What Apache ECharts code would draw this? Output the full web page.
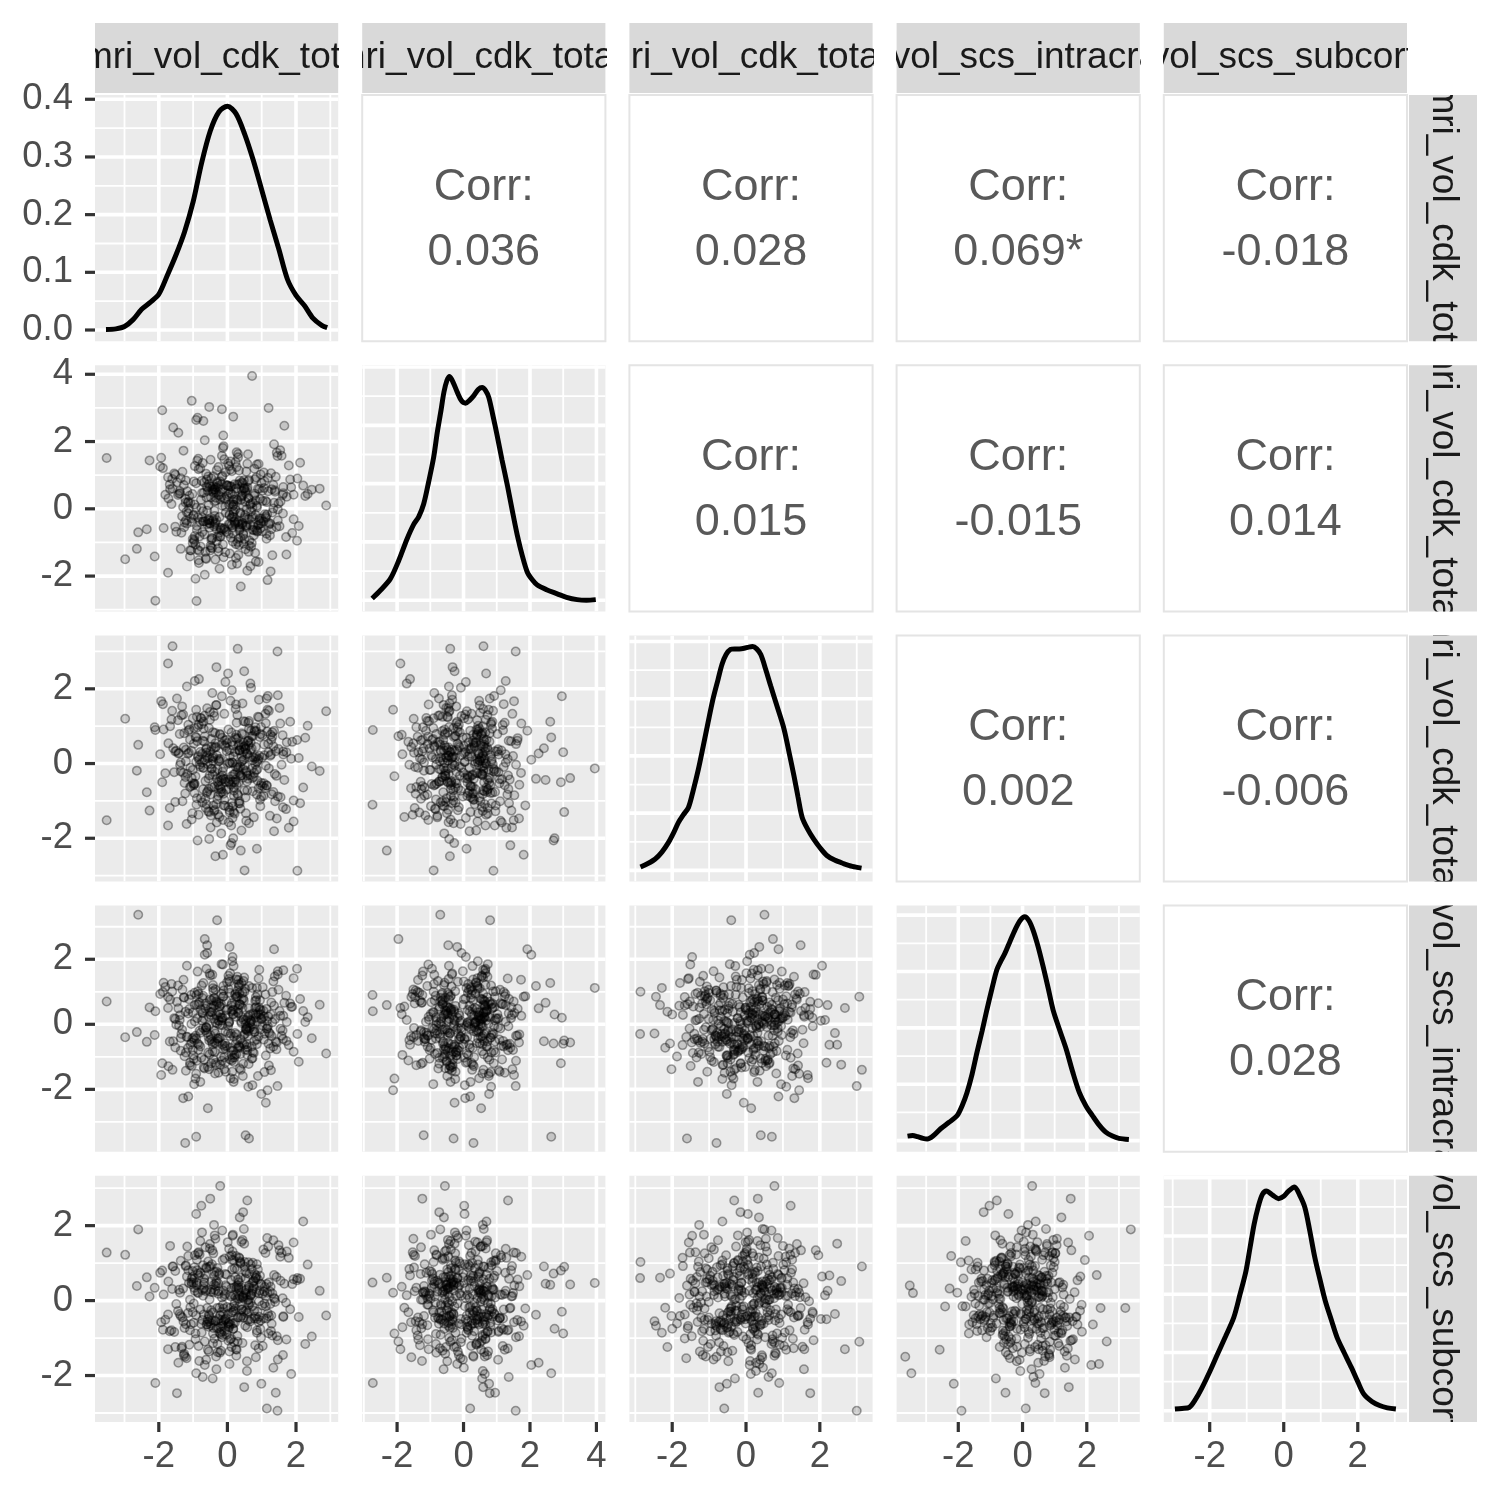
<!DOCTYPE html>
<html><head><meta charset="utf-8">
<script src="https://cdn.jsdelivr.net/npm/echarts@6/dist/echarts.min.js"></script>
<style>html,body{margin:0;padding:0;background:#fff}#c{width:1500px;height:1500px}</style>
</head><body><div id="c"></div>
<script>
// ---------- DATA ----------
const varNames = ['smri_vol_cdk_total','smri_vol_cdk_totallh','smri_vol_cdk_totalrh','smri_vol_scs_intracranialv','smri_vol_scs_subcorticalgv'];
const corrRow1 = ['0.036','0.028','0.069*','-0.018'];
const corrRow2 = ['0.015','-0.015','0.014'];
const corrRow3 = ['0.002','-0.006'];
const corrRow4 = ['0.028'];
const axisMin = [-3.86,-3.05,-3.16,-3.92,-3.24];
const axisMax = [3.23,4.27,3.43,3.65,3.33];
const tickVals1 = [-2,0,2];
const tickVals2 = [-2,0,2,4];
const tickVals3 = [-2,0,2];
const tickVals4 = [-2,0,2];
const tickVals5 = [-2,0,2];
const densTicks = [0,0.1,0.2,0.3,0.4];

const var1 = [0.72,-3.52,2.88,0.30,2.04,-2.60,-1.23,0.53,-2.10,-1.90,-0.21,1.15,-0.90,-2.98,2.69,-0.50,0.58,-0.16,-0.53,0.50,-1.60,-0.91,0.63,1.20,-1.73,1.46,0.17,-0.30,
-0.45,0.12,1.03,-0.78,0.36,-1.21,0.05,0.88,-0.33,1.47,-0.62,0.21,
0.94,-1.55,-0.08,0.41,-0.97,1.86,0.27,-0.51,0.66,-1.09,0.03,-0.24,
1.18,-0.71,0.58,-1.38,0.15,0.79,-0.19,-1.72,0.47,1.29,-0.86,0.09,
-0.39,0.99,-1.14,0.32,1.61,-0.56,-0.02,0.74,-1.93,0.44,-0.29,1.07,
0.18,-0.83,2.21,-0.41,0.55,-1.26,0.86,-0.12,-0.67,1.39,0.06,-1.01,
0.63,-0.35,1.73,-0.93,0.24,-2.35,0.91,-0.15,0.38,-0.74,1.12,-1.47,
-0.06,0.52,-0.89,1.54,0.11,-0.43,2.03,-1.17,0.69,-0.26,0.83,-0.61,
1.25,-0.03,-1.63,0.46,0.97,-0.48,0.14,-1.32,1.66,-0.18,0.59,-0.79,
0.29,-2.12,0.81,-0.37,1.34,-0.09,-0.95,0.42,1.93,-0.66,0.02,-1.22,
0.73,-0.31,1.16,-1.81,0.34,-0.54,0.89,-0.11,-1.05,2.46,-0.44,0.19,
-0.72,1.43,0.07,-1.41,0.61,-0.23,1.01,-0.87,0.26,-2.64,0.48,1.21,
-0.16,-0.59,0.77,-1.11,1.58,0.13,-0.38,0.92,-1.68,0.36,-0.05,1.31,
-0.82,0.53,-1.29,0.22,1.79,-0.47,0.08,-0.99,0.67,-0.21,1.49,-1.52,
0.31,-0.69,2.34,-0.13,0.57,-1.04,0.84,-0.34,0.16,-1.88,1.09,-0.57,
0.39,-0.01,-1.36,0.98,-0.27,1.63,-0.76,0.04,-2.27,0.71,-0.42,1.14,
-0.91,0.25,0.62,-1.19,1.36,-0.52,0.17,-0.64,1.83,-0.32,0.49,-1.58,
0.87,-0.07,-0.84,1.27,0.33,-1.44,0.56,-0.22,2.12,-0.98,0.01,-0.49,
0.22,-0.58,1.12,-0.14,0.47,-1.02,0.81,-0.36,0.05,1.52,-0.79,0.33,
-1.27,0.64,-0.21,0.92,-0.49,0.17,1.38,-0.93,0.41,-0.07,-1.61,0.73,
0.28,-0.42,0.99,-1.15,0.13,0.57,-0.68,1.71,-0.25,0.38,-0.87,0.02,
1.19,-0.53,0.46,-1.34,0.84,-0.11,0.26,-0.74,1.44,-1.86,0.61,-0.31,
0.09,0.97,-0.62,0.35,-1.08,1.26,-0.17,0.52,-0.39,2.08,-0.95,0.19,
-0.46,0.78,-1.21,0.04,0.69,-0.28,1.11,-0.57,0.31,-1.49,0.86,-0.02,
0.55,-0.84,0.14,1.63,-0.35,-0.98,0.44,0.11,-0.66,1.24,-1.39,0.37,
-0.18,0.71,-0.51,0.96,-1.12,0.24,1.47,-0.29,0.62,-0.77,0.07,-1.73,
0.82,-0.43,0.32,1.06,-0.89,0.18,-0.24,1.31,-0.60,0.49,-1.28,0.67,
-0.09,1.89,-0.71,0.27,-0.45,0.93,-1.04,0.42,0.15,-0.55,1.17,-0.33,
-1.52,0.58,0.03,-0.81,1.36,-0.16,0.75,-0.97,0.29,-0.37,2.27,-0.63,
0.48,-1.18,0.86,-0.05,0.39,-0.73,1.02,-1.43,0.21,0.63,-0.27,-0.91,
1.28,-0.47,0.12,0.80,-1.06,0.34,-0.59,1.55,-0.20,0.45,-1.67,0.91,
-0.34,0.06,-0.85,1.14,0.51,-1.25,0.23,-0.41,1.72,-0.69,0.36,-0.13,
0.68,-1.01,1.34,-0.52,0.08,-0.32,0.95,-1.36,0.53,0.19,-0.75,1.21,
-0.23,0.44,-1.96,0.77,-0.06,1.05,-0.61,0.30,-0.88,1.62,-0.40,0.16,
0.89,-0.26,-1.14,0.54,1.41,-0.70,0.10,-0.48,0.74,-1.31,0.40,-0.15,
-0.64,1.08,0.25,-0.96,0.60,-0.12,1.93,-0.54,0.35,-1.09,0.83,-0.38];

const var2 = [3.95,1.51,0.10,-0.40,0.90,-0.70,0.30,-1.20,-2.73,2.93,-0.56,0.20,-2.74,-1.50,0.60,-1.24,1.34,2.96,3.03,-0.90,0.60,2.64,-0.30,3.00,-1.90,1.57,2.74,0.80,
0.61,-0.48,0.23,-1.12,0.84,-0.35,1.27,-0.66,0.49,-0.02,-1.49,0.73,
-0.29,1.05,-0.57,0.38,-0.91,0.64,1.68,-0.44,0.12,-1.23,0.55,-0.71,
0.92,-0.38,-1.84,0.46,0.07,1.19,-0.63,0.31,-1.04,0.58,-0.25,1.41,
-0.52,0.77,-0.14,-1.37,0.41,0.96,-0.69,0.18,1.52,-0.47,-0.83,0.62,
0.27,-1.61,0.69,-0.32,1.11,-0.55,0.04,2.18,-0.76,0.51,-0.19,-1.02,
0.86,-0.41,0.36,-2.08,0.59,-0.61,1.33,0.09,-0.86,0.47,-0.27,0.79,
-1.29,0.21,-0.51,1.74,0.66,-0.36,-0.95,0.52,-0.08,1.24,-1.57,0.34,
-0.44,0.71,0.14,-0.73,1.02,-1.15,0.43,-0.22,2.47,-0.58,0.63,-0.39,
0.26,-1.42,0.88,-0.46,0.01,1.47,-0.81,0.54,-0.31,-1.96,0.68,0.19,
-0.62,1.15,-0.17,0.42,-1.08,0.74,-0.49,1.86,-0.28,0.57,-0.88,0.11,
1.36,-0.54,-1.33,0.45,0.83,-0.24,-0.67,2.71,0.29,-1.19,0.61,-0.42,
0.95,-0.06,-0.79,0.39,1.58,-1.66,0.22,-0.34,0.72,-0.59,1.09,-0.11,
-1.25,0.48,0.05,-0.45,1.29,-0.92,0.66,-0.21,-1.71,0.81,0.16,-0.53,
1.63,-0.37,0.44,-1.06,0.58,3.21,-0.64,0.24,-0.98,1.21,-0.16,0.53,
-2.31,0.37,0.91,-0.43,-1.17,0.65,0.02,-0.74,1.44,-0.26,0.49,-0.89,
0.76,-1.46,0.32,-0.09,1.92,-0.56,0.13,-1.28,0.87,-0.33,0.59,2.42,
-0.68,0.28,-1.53,1.06,-0.47,0.41,-0.01,-0.82,1.37,-0.18,0.69,-1.09,
-0.41,0.63,-0.22,0.98,-0.77,0.44,-1.31,0.57,0.12,-0.52,1.21,-0.36,
0.71,-0.94,0.28,-0.47,1.46,-0.15,0.55,-1.07,0.35,-0.62,0.89,0.04,
-1.63,0.66,-0.29,0.19,1.12,-0.49,0.78,-0.84,0.41,-0.11,-1.22,1.35,
0.52,-0.43,0.06,-0.71,0.93,-1.44,0.61,-0.26,1.67,-0.57,0.31,-0.97,
0.47,-0.38,1.04,-0.64,0.17,-1.86,0.73,-0.19,0.58,-0.51,1.27,-0.08,
-0.87,0.39,0.84,-0.45,-1.13,0.62,0.24,-0.33,1.53,-0.68,0.09,0.69,
-0.54,1.18,-0.24,0.46,-1.51,0.81,-0.42,0.14,2.04,-0.79,0.53,-0.13,
0.36,-1.02,0.67,-0.58,0.01,1.39,-0.35,0.75,-1.28,0.27,-0.46,0.94,
-0.18,0.56,-0.89,1.08,-0.63,0.21,0.49,-1.38,0.87,-0.27,1.73,-0.48,
0.32,-0.72,-0.07,1.24,-1.17,0.59,-0.39,0.79,-0.56,0.11,-2.12,0.64,
1.01,-0.31,0.43,-0.82,0.18,1.58,-0.53,-0.96,0.72,-0.21,0.38,-1.47,
0.85,-0.44,1.32,-0.12,0.26,-0.69,0.54,2.26,-0.37,-1.09,0.68,0.03,
-0.61,0.91,-0.28,0.45,-1.24,1.14,-0.46,0.22,-0.83,0.76,0.58,-1.58,
0.33,-0.17,1.49,-0.74,0.62,-0.41,-0.02,0.97,-1.36,0.48,-0.55,1.81,
0.15,-0.90,0.71,-0.34,1.16,-0.60,0.29,-1.19,0.52,-0.25,0.83,-0.47,
-1.78,0.40,1.26,-0.64,0.07,-0.38,0.66,-0.99,1.43,-0.14,0.50,-0.73,
0.60,-1.27,0.20,-0.50,0.95,2.61,-0.86,0.34,-0.23,1.10,-0.45,0.57,
-0.37,0.82,-1.05,0.13,1.62,-0.59,0.42,-0.30,0.74,-1.42,0.25,-0.06];

const var3 = [-0.13,-1.52,1.40,3.07,-2.87,0.50,-0.80,0.40,0.90,-0.50,0.77,-0.59,-1.10,1.20,-0.20,0.32,-0.32,1.80,-1.30,-2.86,3.14,0.70,-1.60,0.30,2.68,3.00,-2.00,-0.40,
-0.14,0.83,-0.61,1.22,-1.07,0.37,0.02,-0.46,1.56,-0.88,0.29,-1.34,
0.71,-0.23,0.48,-1.79,0.95,0.13,-0.57,1.38,-0.31,0.64,-1.16,0.06,
1.81,-0.69,0.25,-0.04,-1.46,0.89,-0.37,0.54,1.13,-0.82,0.17,-2.19,
0.42,-0.52,1.04,-0.11,0.76,-1.28,0.33,-0.74,1.67,0.08,-0.96,0.51,
-0.29,2.26,-0.64,0.19,-1.53,0.81,0.04,-0.41,1.28,-1.01,0.36,-0.17,
0.93,-2.48,0.57,-0.34,1.46,-0.77,0.12,0.69,-1.21,0.26,-0.06,1.74,
-0.49,0.38,-0.93,1.07,-1.66,0.15,0.63,-0.27,2.03,-0.58,0.44,-1.09,
0.21,-0.71,1.18,-0.15,0.79,-1.39,0.03,1.53,-0.44,-1.87,0.59,0.31,
-0.81,0.97,-0.02,-1.24,0.46,1.33,-0.54,0.18,-0.99,0.73,2.41,-0.36,
0.09,-1.58,0.86,-0.26,0.52,-0.68,1.25,-1.12,0.34,-0.08,1.89,-0.87,
0.61,-0.33,-1.31,0.28,1.09,-0.47,0.16,-2.06,0.77,-0.19,0.45,1.41,
-0.76,0.22,-1.44,0.91,-0.03,0.58,-0.62,1.71,-1.19,0.35,-0.42,0.84,
0.11,-0.91,1.31,-0.28,-1.72,0.66,0.01,-0.53,2.14,-0.79,0.39,-1.03,
0.68,-0.12,1.01,-1.51,0.27,-0.39,0.87,0.43,-1.14,1.59,-0.66,0.14,
-2.33,0.55,-0.21,0.98,-0.86,0.32,1.21,-0.48,-1.26,0.74,0.07,-0.59,
1.44,-0.09,0.49,-1.62,0.88,-0.32,0.19,-0.94,1.12,2.58,-0.72,0.41,
-0.16,0.62,-1.37,0.24,-0.51,1.16,-0.24,0.79,-1.06,0.53,-0.01,-0.83,
0.31,-0.74,1.08,-0.22,0.56,-1.33,0.14,0.82,-0.51,1.49,-0.09,-1.06,
0.43,0.17,-0.62,1.24,-1.71,0.48,-0.28,0.72,0.05,-1.13,1.41,-0.39,
-0.03,0.84,-0.89,0.26,1.96,-0.48,0.59,-1.22,0.12,-0.33,0.97,-0.68,
0.53,-2.02,0.31,1.29,-0.17,-0.81,0.66,0.03,-1.47,0.91,-0.41,0.22,
1.68,-0.58,0.38,-1.01,-0.11,0.77,-0.44,1.12,-1.27,0.15,2.21,-0.73,
0.45,-0.25,0.06,-1.57,0.88,-0.50,1.33,-0.02,-0.85,0.34,-2.28,0.64,
-0.20,1.03,-1.05,0.24,0.54,-0.58,1.61,-0.35,0.10,-1.40,0.79,-0.08,
-0.69,0.40,1.17,-1.14,0.29,-0.43,1.83,-0.15,0.62,-0.93,0.20,-1.66,
0.97,-0.30,0.48,-0.53,1.25,-1.30,0.08,0.72,-0.78,2.47,-0.25,0.36,
-0.97,0.58,-0.11,1.09,-0.64,0.21,-1.50,0.81,0.02,-0.40,1.44,-1.09,
0.32,-0.72,0.91,-0.03,-1.81,0.52,0.17,-0.55,1.30,-0.22,0.69,-1.19,
0.11,2.06,-0.83,0.44,-0.32,-1.04,0.76,0.27,-0.50,1.14,-1.37,0.05,
0.63,-0.14,-2.13,0.86,-0.60,0.35,1.48,-0.90,0.12,-0.38,1.00,-0.66,
0.45,-1.25,0.20,1.74,-0.06,-0.52,0.70,-1.12,0.30,0.93,-0.27,-2.44,
0.56,1.21,-0.76,0.16,-0.42,1.57,-0.97,0.03,0.49,-0.64,1.05,-0.13,
-1.43,0.78,0.25,-0.36,2.18,-0.87,0.41,-0.17,0.60,-1.17,1.36,-0.49,
0.08,-0.69,0.88,-1.33,0.33,1.12,-0.57,-0.01,0.73,-1.01,0.43,-0.32,
-0.47,0.22,1.58,-0.79,0.61,-0.12,-1.55,0.95,0.36,-0.63,0.18,1.27];

const var4 = [1.12,0.70,-0.90,0.85,-0.30,3.37,-3.65,-3.41,0.40,-1.20,0.30,0.10,0.90,-0.40,0.60,1.50,-0.80,0.20,-0.50,1.00,-1.40,-3.46,-3.51,-0.60,0.50,-1.90,0.30,3.20,
0.37,-0.82,1.14,-0.26,0.61,-1.43,0.08,0.92,-0.58,1.63,-0.11,-1.02,
0.45,0.19,-0.67,1.27,-1.84,0.53,-0.31,0.76,0.04,-1.18,1.49,-0.42,
-0.06,0.88,-0.94,0.28,2.07,-0.51,0.63,-1.29,0.14,-0.36,1.02,-0.72,
0.57,-2.14,0.33,1.36,-0.19,-0.87,0.71,0.02,-1.56,0.96,-0.44,0.24,
1.79,-0.63,0.41,-1.08,-0.13,0.82,-0.47,1.18,-1.36,0.16,2.38,-0.79,
0.49,-0.28,0.07,-1.67,0.94,-0.54,1.41,-0.03,-0.91,0.36,-2.41,0.69,
-0.22,1.09,-1.12,0.26,0.58,-0.62,1.71,-0.38,0.11,-1.49,0.84,-0.09,
-0.74,0.43,1.24,-1.21,0.31,-0.46,1.94,-0.17,0.66,-0.99,0.21,-1.77,
1.03,-0.33,0.51,-0.57,1.32,-1.38,0.09,0.77,-0.84,2.62,-0.27,0.39,
-1.04,0.62,-0.12,1.15,-0.69,0.23,-1.59,0.86,0.01,-0.43,1.52,-1.16,
0.34,-0.77,0.97,-0.04,-1.92,0.56,0.18,-0.59,1.38,-0.24,0.73,-1.27,
0.12,2.19,-0.88,0.47,-0.35,-1.11,0.81,0.29,-0.53,1.21,-1.46,0.06,
0.67,-0.16,-2.27,0.91,-0.64,0.38,1.57,-0.96,0.13,-0.41,1.06,-0.71,
0.48,-1.33,0.22,1.84,-0.07,-0.56,0.74,-1.19,0.32,0.99,-0.29,-2.58,
0.59,1.29,-0.81,0.17,-0.45,1.66,-1.03,0.03,0.52,-0.68,1.11,-0.14,
-1.52,0.83,0.27,-0.39,2.31,-0.92,0.44,-0.18,0.64,-1.24,1.44,-0.52,
0.09,-0.73,0.93,-1.41,0.35,1.19,-0.61,-0.02,0.78,-1.07,0.46,-0.34,
-0.27,0.58,-0.96,0.19,1.33,-0.44,0.72,-1.51,0.06,0.41,-0.68,1.16,
0.83,-0.12,-1.24,0.52,0.29,-0.81,1.47,-0.35,0.04,-0.59,1.01,-1.87,
-0.49,1.21,0.14,-0.73,0.65,-0.18,-1.09,0.88,0.37,-0.46,1.62,-0.06,
0.24,-1.38,0.79,-0.30,0.53,1.04,-0.92,0.11,-0.56,1.28,-0.21,0.68,
-1.66,0.45,-0.09,0.96,-0.62,0.31,1.85,-0.78,0.17,-1.15,0.59,-0.38,
0.73,-0.24,-0.87,1.39,0.08,-0.52,0.92,-1.31,0.35,-0.01,1.12,-0.67,
-0.15,0.62,-1.46,0.26,1.07,-0.41,0.50,-0.94,2.14,-0.29,0.13,-0.72,
0.94,-1.06,0.38,-0.17,0.77,-0.60,1.53,0.02,-1.22,0.46,-0.36,0.84,
0.20,-0.83,1.24,-0.47,0.61,-1.77,0.10,0.99,-0.26,-0.63,1.37,0.30,
-1.01,0.54,-0.11,0.86,-0.54,1.68,-1.28,0.22,0.43,-0.39,-2.03,0.71,
0.16,-0.70,1.09,-0.20,0.57,-1.12,0.33,-0.48,1.46,-0.85,0.07,0.64,
-0.33,1.80,-0.61,0.27,-1.40,0.81,-0.04,0.49,-0.95,1.18,0.12,-0.44,
0.67,-1.20,0.39,-0.23,0.90,-0.66,2.43,-0.14,0.21,-1.59,0.76,-0.37,
0.05,1.31,-0.79,0.47,-0.30,-0.98,0.60,1.02,-0.51,0.18,-1.35,0.85,
-0.08,0.36,-0.69,1.56,-1.08,0.28,0.74,-0.42,0.01,-1.68,1.19,-0.25,
0.55,-0.58,0.93,-0.16,-1.18,0.42,1.71,-0.73,0.19,-0.45,0.80,-1.03,
0.34,0.66,-2.22,0.13,-0.53,1.27,-0.28,0.51,-0.86,1.06,0.09,-0.62,
0.48,-1.47,0.23,0.97,-0.35,-0.77,1.42,-0.05,0.62,-1.26,0.30,-0.19];

const var5 = [0.47,1.28,-0.40,-1.10,0.60,1.90,-1.50,0.20,-2.20,0.80,3.06,-2.88,0.48,1.22,0.26,2.72,2.67,-0.30,0.90,1.03,0.91,-1.94,0.40,-0.88,-1.30,-2.94,-0.75,-0.20,
-0.52,0.33,-1.21,0.74,0.11,-0.63,1.38,-0.29,0.46,-1.57,0.88,-0.07,
0.27,-0.84,1.12,-0.41,0.59,-1.96,0.38,1.51,-0.56,0.02,-1.07,0.69,
-0.34,0.94,-0.71,0.21,1.73,-0.48,-1.34,0.51,0.13,-0.62,1.26,-0.19,
0.42,-2.22,0.81,-0.45,0.06,1.04,-0.91,0.31,-0.58,1.62,-1.16,0.24,
-0.27,0.67,2.11,-0.73,0.16,-1.42,0.97,-0.38,0.48,-0.04,-1.69,0.79,
0.35,-0.55,1.31,-0.88,0.09,0.62,-1.28,1.87,-0.46,0.28,-0.16,-2.47,
0.71,-0.67,0.41,1.17,-1.01,-0.32,0.54,1.44,-0.49,0.18,-1.51,0.86,
-0.09,0.37,-0.79,2.36,-0.53,0.23,1.08,-1.23,0.45,-0.61,0.01,1.59,
-0.94,0.34,-0.43,0.76,-1.79,0.12,1.21,-0.24,0.57,-1.09,-0.36,0.92,
0.26,-0.74,1.67,-0.51,0.04,-1.36,0.83,-0.21,0.49,-0.96,1.34,0.15,
-2.04,0.63,-0.57,0.29,1.02,-0.86,-0.13,0.72,-1.47,0.39,1.91,-0.42,
0.08,-0.64,0.53,-1.18,1.27,-0.31,0.66,-0.02,-0.82,2.22,-0.47,0.19,
-1.61,0.77,0.32,-0.59,1.14,-0.26,-1.03,0.47,0.14,-0.69,1.48,-1.24,
0.56,-0.37,0.96,-0.11,-1.88,0.43,0.22,-0.54,1.76,-0.78,0.36,-1.31,
0.61,-0.17,1.06,-0.99,0.25,-0.44,2.53,-0.62,0.11,0.84,-1.14,0.44,
-0.39,1.19,-0.06,-1.54,0.68,0.03,-0.76,1.42,-0.23,0.52,-2.31,0.91,
-0.49,0.17,1.29,-0.81,0.31,-0.28,0.73,-1.39,0.58,-0.08,1.56,-0.66,
0.36,-0.57,0.12,1.08,-0.46,0.63,-1.19,0.28,-0.71,1.34,-0.24,0.49,
-1.46,0.71,-0.39,0.19,0.92,-0.61,0.04,-1.03,1.57,-0.52,0.31,-0.15,
0.84,-0.88,0.43,-0.33,1.21,-1.62,0.58,-0.06,-0.49,0.99,0.22,-0.78,
1.44,-0.41,0.07,-1.27,0.66,-0.55,0.33,1.82,-0.95,0.16,-0.30,0.77,
-0.64,0.45,-1.58,1.13,-0.18,0.37,-0.83,0.59,2.02,-0.44,0.26,-1.11,
0.51,-0.27,0.94,-0.68,0.14,-1.38,1.27,-0.50,0.40,-0.09,-0.86,0.69,
0.30,-1.21,0.83,-0.42,1.65,-0.59,0.09,0.55,-1.72,0.24,-0.36,1.04,
-0.53,0.18,1.39,-0.76,0.47,-0.21,-1.06,0.87,0.02,-0.62,1.18,-0.37,
0.61,-2.08,0.35,-0.47,1.09,-0.16,0.73,-0.93,0.28,1.52,-0.56,-0.05,
-0.82,0.44,0.13,-1.31,0.97,-0.43,0.58,-0.24,1.31,-0.70,0.21,-1.49,
0.79,-0.34,-0.60,1.23,0.07,-0.98,0.50,0.34,-0.45,1.74,-1.16,0.25,
-0.29,0.64,-0.80,0.41,1.01,-0.52,0.18,-1.66,0.86,-0.11,0.46,2.31,
-0.40,0.29,-1.24,0.71,-0.63,1.15,-0.20,0.53,-0.89,0.10,1.46,-0.58,
0.39,-1.36,0.20,-0.48,0.90,-0.73,0.62,1.26,-1.04,0.32,-0.14,-0.67,
0.96,-0.31,1.61,-0.55,0.15,-1.83,0.66,-0.41,0.27,1.07,-0.85,0.48,
-0.19,-1.13,0.74,0.38,-0.50,1.36,-0.64,0.05,0.81,-1.45,0.22,-0.32,
0.57,-0.74,1.19,-0.26,-2.46,0.42,0.11,-0.61,1.01,-0.45,0.35,-0.92,
0.68,-0.08,-1.30,0.89,-0.52,0.26,1.55,-0.37,0.14,-0.79,0.60,-1.02];

// density curves: [x, density]
const dens1 = [[-3.54,0.001],[-3.25,0.002],[-3.0,0.006],[-2.75,0.018],[-2.5,0.036],[-2.25,0.048],[-2.0,0.062],[-1.75,0.095],[-1.5,0.13],[-1.25,0.17],[-1.0,0.222],[-0.75,0.29],[-0.5,0.345],[-0.25,0.378],[0.0,0.388],[0.25,0.375],[0.5,0.34],[0.75,0.295],[1.0,0.243],[1.25,0.19],[1.5,0.14],[1.75,0.088],[2.0,0.06],[2.25,0.042],[2.5,0.02],[2.75,0.008],[2.91,0.004]];
const dens2 = [[-2.75,0.003],[-2.5,0.017],[-2.2,0.037],[-1.95,0.068],[-1.7,0.105],[-1.5,0.13],[-1.35,0.143],[-1.2,0.165],[-1.05,0.203],[-0.9,0.245],[-0.79,0.288],[-0.68,0.325],[-0.59,0.357],[-0.5,0.377],[-0.42,0.384],[-0.3,0.372],[-0.19,0.357],[-0.06,0.342],[0.06,0.338],[0.18,0.343],[0.31,0.351],[0.45,0.362],[0.56,0.365],[0.66,0.36],[0.76,0.348],[0.88,0.318],[1.01,0.283],[1.16,0.24],[1.32,0.197],[1.47,0.153],[1.62,0.111],[1.77,0.076],[1.92,0.048],[2.07,0.035],[2.22,0.026],[2.5,0.018],[2.82,0.011],[3.1,0.005],[3.42,0.001],[3.7,0.0],[3.98,0.001]];
const dens3 = [[-2.86,0.006],[-2.66,0.012],[-2.46,0.02],[-2.28,0.032],[-2.1,0.049],[-1.96,0.066],[-1.83,0.084],[-1.7,0.097],[-1.56,0.11],[-1.43,0.14],[-1.29,0.177],[-1.16,0.217],[-1.03,0.258],[-0.9,0.298],[-0.76,0.333],[-0.65,0.36],[-0.54,0.377],[-0.42,0.386],[-0.31,0.387],[-0.18,0.387],[-0.05,0.388],[0.07,0.39],[0.18,0.391],[0.29,0.387],[0.4,0.377],[0.53,0.352],[0.67,0.322],[0.85,0.285],[1.03,0.247],[1.17,0.205],[1.3,0.165],[1.41,0.128],[1.52,0.093],[1.67,0.072],[1.83,0.055],[2.0,0.04],[2.19,0.026],[2.4,0.018],[2.64,0.012],[2.88,0.007],[3.13,0.004]];
const dens4 = [[-3.58,0.008],[-3.42,0.009],[-3.27,0.007],[-3.1,0.004],[-2.96,0.003],[-2.75,0.01],[-2.55,0.021],[-2.3,0.032],[-2.04,0.044],[-1.88,0.062],[-1.73,0.085],[-1.57,0.118],[-1.42,0.156],[-1.26,0.194],[-1.11,0.232],[-0.95,0.27],[-0.8,0.303],[-0.68,0.318],[-0.55,0.332],[-0.4,0.352],[-0.24,0.373],[-0.08,0.39],[0.07,0.397],[0.2,0.39],[0.33,0.373],[0.48,0.345],[0.64,0.309],[0.8,0.27],[0.95,0.232],[1.15,0.197],[1.36,0.162],[1.56,0.122],[1.77,0.085],[1.97,0.062],[2.18,0.044],[2.38,0.028],[2.59,0.015],[2.8,0.008],[3.0,0.004],[3.31,0.002]];
const dens5 = [[-2.94,0.003],[-2.75,0.004],[-2.55,0.006],[-2.38,0.02],[-2.22,0.038],[-2.0,0.067],[-1.79,0.097],[-1.57,0.128],[-1.35,0.16],[-1.18,0.2],[-1.02,0.24],[-0.91,0.28],[-0.8,0.32],[-0.69,0.35],[-0.58,0.371],[-0.47,0.377],[-0.3,0.37],[-0.14,0.364],[0.0,0.368],[0.13,0.377],[0.29,0.384],[0.43,0.37],[0.57,0.349],[0.7,0.31],[0.84,0.263],[0.98,0.225],[1.12,0.189],[1.28,0.157],[1.44,0.126],[1.63,0.1],[1.83,0.074],[2.0,0.05],[2.16,0.029],[2.38,0.016],[2.59,0.009],[2.8,0.005],[3.03,0.003]];

// ---------- LAYOUT ----------
const FONT = "'Liberation Sans', Arial, Helvetica, sans-serif";
const PW = 243.2, PH = 246.2;
const colLeft = [95, 362.2, 629.4, 896.6, 1163.8];
const rowTop = [95, 365.2, 635.4, 905.6, 1175.8];
const vars = [var1, var2, var3, var4, var5];
const dens = [dens1, dens2, dens3, dens4, dens5];
const tickVals = [tickVals1, tickVals2, tickVals3, tickVals4, tickVals5];
const corrRows = [corrRow1, corrRow2, corrRow3, corrRow4];
const N = Math.min(...vars.map(v => v.length));

function breaks(min, max, step) {
  const maj = [], mnr = [], h = step / 2;
  for (let k = Math.ceil(min / h - 1e-9); k * h <= max + 1e-9; k++) {
    const v = +(k * h).toFixed(6);
    (Math.abs(k) % 2 === 0 ? maj : mnr).push(v);
  }
  return { maj, mnr };
}

const grids = [], xAxes = [], yAxes = [], series = [], graphics = [];
const labelStyle = { color: '#4D4D4D', fontSize: 36.5, fontFamily: FONT };

function gridLineSeries(gi, xb, yb, xmid, ymid) {
  const d = [];
  xb.mnr.forEach(v => d.push([v, ymid, 0, 0]));
  yb.mnr.forEach(v => d.push([xmid, v, 1, 0]));
  xb.maj.forEach(v => d.push([v, ymid, 0, 1]));
  yb.maj.forEach(v => d.push([xmid, v, 1, 1]));
  return {
    type: 'custom', xAxisIndex: gi, yAxisIndex: gi, silent: true, z: 1, clip: true,
    dimensions: ['x', 'y', 'o', 'm'], encode: { x: 0, y: 1 },
    data: d,
    renderItem: (p, api) => {
      const cs = p.coordSys;
      const o = api.value(2), m = api.value(3);
      const pt = api.coord([api.value(0), api.value(1)]);
      const shape = o === 0
        ? { x1: pt[0], y1: cs.y, x2: pt[0], y2: cs.y + cs.height }
        : { x1: cs.x, y1: pt[1], x2: cs.x + cs.width, y2: pt[1] };
      return { type: 'line', shape, style: { stroke: '#FFFFFF', lineWidth: m ? 3.6 : 1.8 } };
    }
  };
}

// outer axis tick marks, placed through the axis scale
function tickSeries(gi, values, horizontal, xmid, ymid) {
  return {
    type: 'custom', xAxisIndex: gi, yAxisIndex: gi, silent: true, z: 4, clip: false,
    encode: { x: 0, y: 1 },
    data: values.map(v => horizontal ? [v, ymid] : [xmid, v]),
    renderItem: (p, api) => {
      const cs = p.coordSys;
      const pt = api.coord([api.value(0), api.value(1)]);
      const shape = horizontal
        ? { x1: pt[0], y1: cs.y + cs.height, x2: pt[0], y2: cs.y + cs.height + 10 }
        : { x1: cs.x - 10, y1: pt[1], x2: cs.x, y2: pt[1] };
      return { type: 'line', shape, style: { stroke: '#333333', lineWidth: 3.2 } };
    }
  };
}

let gi = 0;
for (let r = 0; r < 5; r++) {
  for (let c = 0; c < 5; c++) {
    const upper = r < c, diag = r === c;
    const xmin = axisMin[c], xmax = axisMax[c];
    let ymin, ymax;
    if (diag) {
      const m = Math.max(...dens[c].map(p => p[1]));
      ymin = -0.05 * m; ymax = 1.05 * m;
    } else { ymin = axisMin[r]; ymax = axisMax[r]; }
    grids.push({
      left: colLeft[c], top: rowTop[r], width: PW, height: PH, show: true,
      backgroundColor: upper ? '#FFFFFF' : '#EBEBEB',
      borderColor: upper ? '#E4E4E4' : 'rgba(0,0,0,0)', borderWidth: upper ? 2 : 0
    });
    const showX = r === 4, showY = c === 0;
    xAxes.push({
      gridIndex: gi, type: 'value', min: xmin, max: xmax, show: !upper,
      axisLine: { show: false }, splitLine: { show: false }, axisTick: { show: false },
      axisLabel: Object.assign({ show: showX, customValues: tickVals[c], margin: 16 }, labelStyle)
    });
    const yTicks = (r === 0) ? densTicks : tickVals[r];
    yAxes.push({
      gridIndex: gi, type: 'value', min: ymin, max: ymax, show: !upper,
      axisLine: { show: false }, splitLine: { show: false }, axisTick: { show: false },
      axisLabel: Object.assign({ show: showY, customValues: yTicks, margin: 22,
        formatter: (r === 0) ? (v => Number(v).toFixed(1)) : (v => String(v)) }, labelStyle)
    });
    const xmid = (xmin + xmax) / 2, ymid = (ymin + ymax) / 2;
    if (!upper) {
      const xb = breaks(xmin, xmax, 2);
      const yb = diag ? breaks(ymin, ymax, 0.1) : breaks(ymin, ymax, 2);
      series.push(gridLineSeries(gi, xb, yb, xmid, ymid));
    }
    if (showX) series.push(tickSeries(gi, tickVals[c], true, xmid, ymid));
    if (showY) series.push(tickSeries(gi, yTicks, false, xmid, ymid));
    if (diag) {
      series.push({
        type: 'line', xAxisIndex: gi, yAxisIndex: gi, data: dens[c], showSymbol: false,
        smooth: 0.3, z: 3, silent: true,
        lineStyle: { color: '#000000', width: 5 }
      });
    } else if (!upper) {
      const pts = [];
      for (let k = 0; k < N; k++) pts.push([vars[c][k], vars[r][k]]);
      series.push({
        type: 'scatter', xAxisIndex: gi, yAxisIndex: gi, data: pts, z: 2, silent: true,
        symbol: 'circle', symbolSize: 8.5,
        itemStyle: { color: 'rgba(0,0,0,0.2)', borderColor: 'rgba(0,0,0,0.45)', borderWidth: 1.5 }
      });
    } else {
      const cx = colLeft[c] + PW / 2, cy = rowTop[r] + PH / 2;
      const val = corrRows[r][c - r - 1];
      ['Corr:', val].forEach((t, k) => {
        graphics.push({
          type: 'text', x: cx, y: cy + (k === 0 ? -31 : 34), silent: true, z: 10,
          style: { text: t, fill: '#595959', font: '45px ' + FONT,
            align: 'center', verticalAlign: 'middle', textAlign: 'center', textVerticalAlign: 'middle' }
        });
      });
    }
    gi++;
  }
}

// strips (clipped labels, as in facet strips)
function stripSeries(idx, label, rotate) {
  return {
    type: 'custom', xAxisIndex: idx, yAxisIndex: idx, silent: true, clip: true, z: 5,
    data: [[0, 0]],
    renderItem: (p, api) => {
      const cs = p.coordSys;
      return {
        type: 'text', x: cs.x + cs.width / 2, y: cs.y + cs.height / 2,
        rotation: rotate ? -Math.PI / 2 : 0,
        style: { text: label, fill: '#1A1A1A', font: '37px ' + FONT,
          align: 'center', verticalAlign: 'middle', textAlign: 'center', textVerticalAlign: 'middle' }
      };
    }
  };
}
for (let c = 0; c < 5; c++) {
  grids.push({ left: colLeft[c], top: 23, width: PW, height: 70, show: true, backgroundColor: '#D9D9D9', borderWidth: 0 });
  xAxes.push({ gridIndex: gi, type: 'value', min: -1, max: 1, show: false });
  yAxes.push({ gridIndex: gi, type: 'value', min: -1, max: 1, show: false });
  series.push(stripSeries(gi, varNames[c], false));
  gi++;
}
for (let r = 0; r < 5; r++) {
  grids.push({ left: 1409, top: rowTop[r], width: 68, height: PH, show: true, backgroundColor: '#D9D9D9', borderWidth: 0 });
  xAxes.push({ gridIndex: gi, type: 'value', min: -1, max: 1, show: false });
  yAxes.push({ gridIndex: gi, type: 'value', min: -1, max: 1, show: false });
  series.push(stripSeries(gi, varNames[r], true));
  gi++;
}

const chart = echarts.init(document.getElementById('c'), null, { renderer: 'canvas', width: 1500, height: 1500 });
chart.setOption({
  animation: false,
  backgroundColor: '#FFFFFF',
  textStyle: { fontFamily: FONT },
  grid: grids, xAxis: xAxes, yAxis: yAxes, series: series,
  graphic: { elements: graphics }
});
</script></body></html>
